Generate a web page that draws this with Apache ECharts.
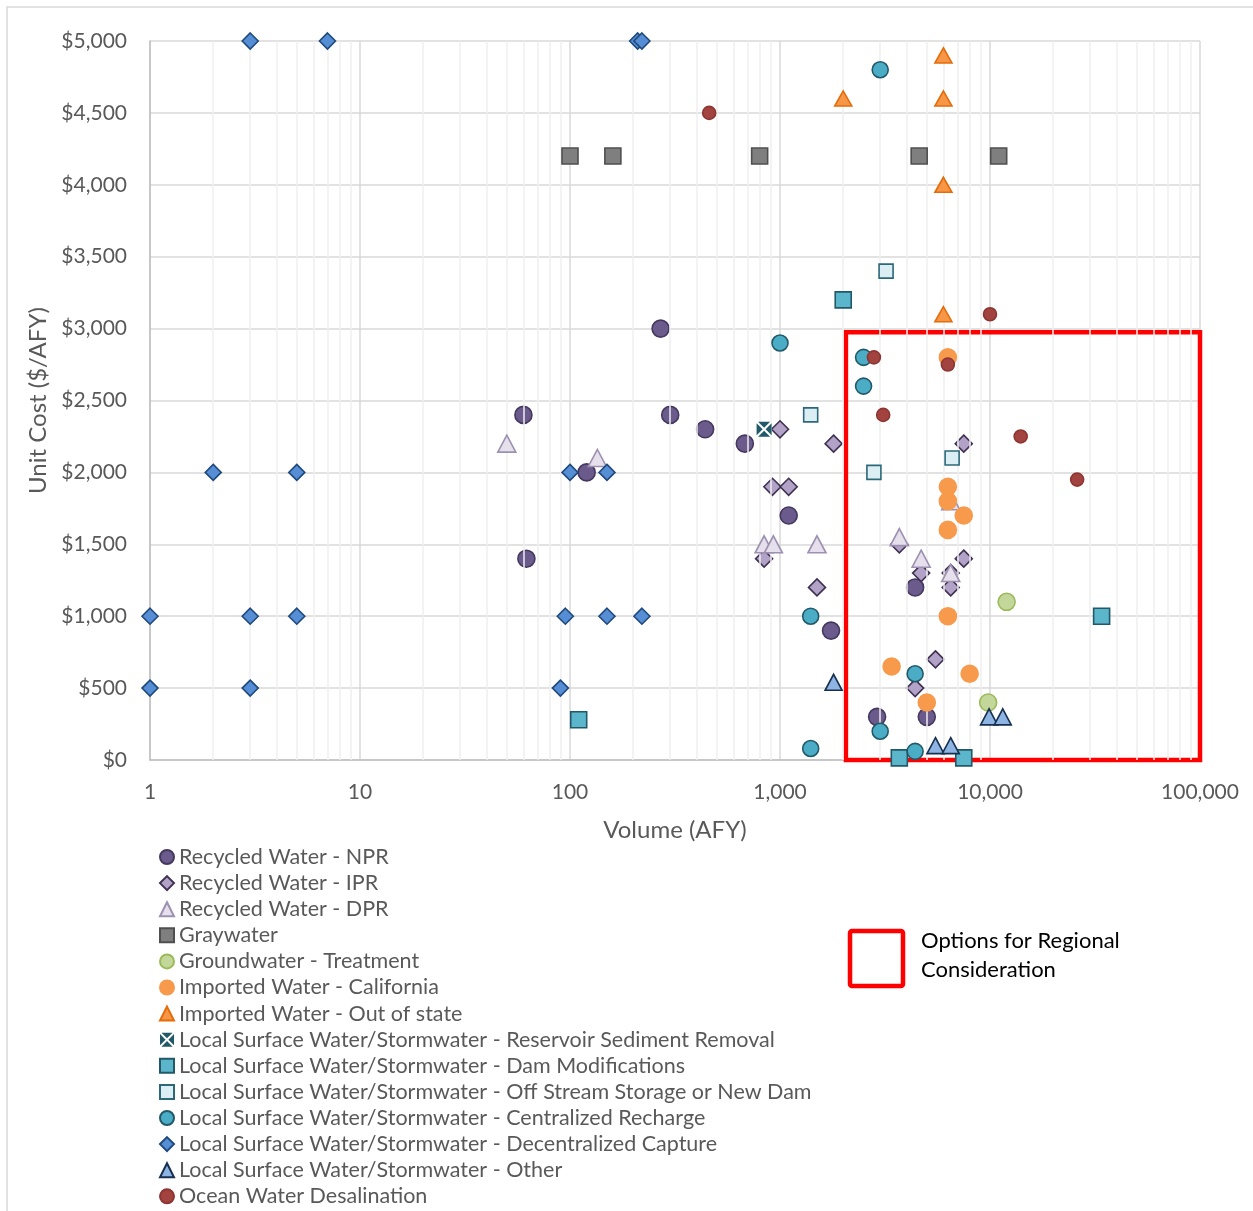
<!DOCTYPE html>
<html>
<head>
<meta charset="utf-8">
<script src="https://cdn.jsdelivr.net/npm/echarts@6/dist/echarts.min.js"></script>
<style>
  html, body { margin: 0; padding: 0; background: #ffffff; }
  #chart { width: 1253px; height: 1211px; }
</style>
</head>
<body>
<div id="chart"></div>
<script>
// Water supply options: volume (AFY) vs unit cost ($/AFY)

const xTickLabels = ['1', '10', '100', '1,000', '10,000', '100,000'];
const yTickValues = [0, 500, 1000, 1500, 2000, 2500, 3000, 3500, 4000, 4500, 5000];
// minor log gridlines between decades
const minorGridValues = [2,3,4,5,6,7,8,9, 20,30,40,50,60,70,80,90, 200,300,400,500,600,700,800,900,
  2000,3000,4000,5000,6000,7000,8000,9000, 20000,30000,40000,50000,60000,70000,80000,90000];

// [volume AFY, unit cost $/AFY]
const recycledNPR = [[60,2400],[270,3000],[300,2400],[440,2300],[680,2200],[120,2000],[1100,1700],
  [62,1400],[4400,1200],[1750,900],[2900,300],[5000,300]];
const recycledIPR = [[1000,2300],[1800,2200],[920,1900],[1100,1900],[840,1400],[1500,1200],[7500,2200],
  [3700,1500],[4700,1300],[6500,1300],[7500,1400],[6500,1200],[5500,700],[4400,500]];
const recycledDPR = [[50,2200],[135,2100],[840,1500],[930,1500],[1500,1500],[6500,1800],[3700,1550],
  [4700,1400],[6500,1300]];
const graywater = [[100,4200],[160,4200],[800,4200],[4600,4200],[11000,4200]];
const groundwaterTreatment = [[12000,1100],[9800,400]];
const importedCalifornia = [[6300,2800],[6300,1900],[6300,1800],[7500,1700],[6300,1600],[6300,1000],
  [3400,650],[8000,600],[5000,400]];
const importedOutOfState = [[6000,4900],[2000,4600],[6000,4600],[6000,4000],[6000,3100]];
const lswSedimentRemoval = [[840,2300]];
const lswDamModifications = [[2000,3200],[110,280],[34000,1000],[3700,15],[7500,15]];
const lswOffStream = [[3200,3400],[1400,2400],[2800,2000],[6600,2100]];
const lswCentralized = [[3000,4800],[1000,2900],[2500,2800],[2500,2600],[1400,1000],[4400,600],
  [3000,200],[1400,80],[4400,60]];
const lswDecentralized = [[3,5000],[7,5000],[210,5000],[220,5000],[2,2000],[5,2000],[100,2000],[150,2000],
  [1,1000],[3,1000],[5,1000],[95,1000],[150,1000],[220,1000],[1,500],[3,500],[90,500]];
const lswOther = [[1800,540],[9900,300],[11500,300],[5500,100],[6500,100]];
const oceanDesal = [[460,4500],[10000,3100],[2800,2800],[6300,2750],[3100,2400],[14000,2250],[26000,1950]];

// region highlighted as options for regional consideration
const regionBox = { xMin: 2060, xMax: 100000, yMin: 0, yMax: 2975 };

const FONT = 'Lato, "Liberation Sans", sans-serif';
const TEXT_GRAY = '#595959';

// square with a white X cut through it
const xSquare = 'path://M2,0L18,0L10,8Z M20,2L20,18L12,10Z M18,20L2,20L10,12Z M0,18L0,2L8,10Z';

const seriesDefs = [
  { name: 'Recycled Water - NPR', data: recycledNPR, symbol: 'circle', size: 17, fill: '#6b5a8c', stroke: '#45385f' },
  { name: 'Recycled Water - IPR', data: recycledIPR, symbol: 'diamond', size: 17, fill: '#b3a2c7', stroke: '#3f3151' },
  { name: 'Recycled Water - DPR', data: recycledDPR, symbol: 'triangle', size: [18, 17], fill: '#e6e0ec', stroke: '#9d90b1' },
  { name: 'Graywater', data: graywater, symbol: 'rect', size: 16, fill: '#7f7f7f', stroke: '#4f4f4f' },
  { name: 'Groundwater - Treatment', data: groundwaterTreatment, symbol: 'circle', size: 17, fill: '#c4d79b', stroke: '#9bbb59' },
  { name: 'Imported Water - California', data: importedCalifornia, symbol: 'circle', size: 17, fill: '#f79a4c', stroke: '#f79a4c' },
  { name: 'Imported Water - Out of state', data: importedOutOfState, symbol: 'triangle', size: [17, 15], fill: '#f79646', stroke: '#e46c0a' },
  { name: 'Local Surface Water/Stormwater - Reservoir Sediment Removal', data: lswSedimentRemoval, symbol: xSquare, size: 15, fill: '#215968', stroke: null },
  { name: 'Local Surface Water/Stormwater - Dam Modifications', data: lswDamModifications, symbol: 'rect', size: 16, fill: '#5bb5cb', stroke: '#215968' },
  { name: 'Local Surface Water/Stormwater - Off Stream Storage or New Dam', data: lswOffStream, symbol: 'rect', size: 14, fill: '#dbeef4', stroke: '#2c6878' },
  { name: 'Local Surface Water/Stormwater - Centralized Recharge', data: lswCentralized, symbol: 'circle', size: 16, fill: '#4bacc6', stroke: '#215968' },
  { name: 'Local Surface Water/Stormwater - Decentralized Capture', data: lswDecentralized, symbol: 'diamond', size: 16, fill: '#558ed5', stroke: '#1f497d' },
  { name: 'Local Surface Water/Stormwater - Other', data: lswOther, symbol: 'triangle', size: [17, 16], fill: '#8eb4e3', stroke: '#17304f' },
  { name: 'Ocean Water Desalination', data: oceanDesal, symbol: 'circle', size: 13, fill: '#a3433f', stroke: '#8c3532' }
];

const scatterSeries = seriesDefs.map((d, i) => ({
  name: d.name,
  type: 'scatter',
  data: d.data,
  symbol: d.symbol,
  symbolSize: d.size,
  z: 3 + i,
  itemStyle: {
    color: d.fill,
    borderColor: d.stroke || d.fill,
    borderWidth: d.stroke ? 1.6 : 0,
    opacity: 1
  },
  emphasis: { disabled: true },
  animation: false
}));

// light minor gridlines, drawn through the log axis
const helperSeries = {
  name: '_grid',
  type: 'scatter',
  data: [],
  z: 1,
  silent: true,
  animation: false,
  markLine: {
    silent: true,
    symbol: ['none', 'none'],
    label: { show: false },
    lineStyle: { color: '#efefef', width: 1.5, type: 'solid' },
    emphasis: { disabled: true },
    animation: false,
    data: minorGridValues.map(v => ({ xAxis: v }))
  }
};

// red outline around the regional options
const boxSeries = {
  name: '_box',
  type: 'scatter',
  data: [],
  z: 30,
  silent: true,
  animation: false,
  markArea: {
    silent: true,
    animation: false,
    itemStyle: { color: 'rgba(0,0,0,0)', borderColor: '#ff0000', borderWidth: 4.5 },
    label: { show: false },
    emphasis: { disabled: true },
    data: [[
      { coord: [regionBox.xMin, regionBox.yMax] },
      { coord: [regionBox.xMax, regionBox.yMin] }
    ]]
  }
};

const chart = echarts.init(document.getElementById('chart'), null, { renderer: 'canvas' });

chart.setOption({
  backgroundColor: '#ffffff',
  animation: false,
  textStyle: { fontFamily: FONT },
  grid: { left: 150, right: 53, top: 41, bottom: 451, containLabel: false },
  xAxis: {
    type: 'log',
    logBase: 10,
    min: 1,
    max: 100000,
    name: 'Volume (AFY)',
    nameLocation: 'middle',
    nameGap: 58,
    nameTextStyle: { fontFamily: FONT, fontSize: 24, color: TEXT_GRAY },
    axisLine: { show: true, lineStyle: { color: '#bfbfbf', width: 1.5 } },
    axisTick: { show: false },
    axisLabel: {
      fontFamily: FONT, fontSize: 21, color: TEXT_GRAY, margin: 22,
      formatter: v => xTickLabels[Math.round(Math.log10(v))] || ''
    },
    splitLine: { show: true, lineStyle: { color: '#d9d9d9', width: 1.5 } }
  },
  yAxis: {
    type: 'value',
    min: 0,
    max: 5000,
    interval: 500,
    name: 'Unit Cost ($/AFY)',
    nameLocation: 'middle',
    nameGap: 100,
    nameTextStyle: { fontFamily: FONT, fontSize: 24, color: TEXT_GRAY },
    axisLine: { show: true, lineStyle: { color: '#bfbfbf', width: 1.5 } },
    axisTick: { show: false },
    axisLabel: {
      fontFamily: FONT, fontSize: 21, color: TEXT_GRAY, margin: 23,
      formatter: v => yTickValues.indexOf(v) >= 0 ? '$' + v.toLocaleString('en-US') : ''
    },
    splitLine: { show: true, lineStyle: { color: '#d9d9d9', width: 1.5 } }
  },
  legend: {
    orient: 'vertical',
    left: 154,
    top: 841,
    height: 420,
    itemWidth: 14,
    itemHeight: 14,
    itemGap: 4.1,
    selectedMode: false,
    data: seriesDefs.map(d => d.name),
    textStyle: { fontFamily: FONT, fontSize: 21.5, color: TEXT_GRAY, lineHeight: 22 }
  },
  graphic: [
    {
      type: 'rect', silent: true, z: 0,
      shape: { x: 7, y: 7, width: 1300, height: 1300 },
      style: { fill: 'none', stroke: '#d9d9d9', lineWidth: 1.5 }
    },
    {
      type: 'rect', silent: true,
      shape: { x: 850, y: 931, width: 53, height: 55, r: 2 },
      style: { fill: 'none', stroke: '#ff0000', lineWidth: 4.5 }
    },
    {
      type: 'text', silent: true, left: 921, top: 926,
      style: { text: 'Options for Regional\nConsideration', font: '22px ' + FONT, fill: '#000000', lineHeight: 29 }
    }
  ],
  series: [helperSeries].concat(scatterSeries, [boxSeries])
});
</script>
</body>
</html>
